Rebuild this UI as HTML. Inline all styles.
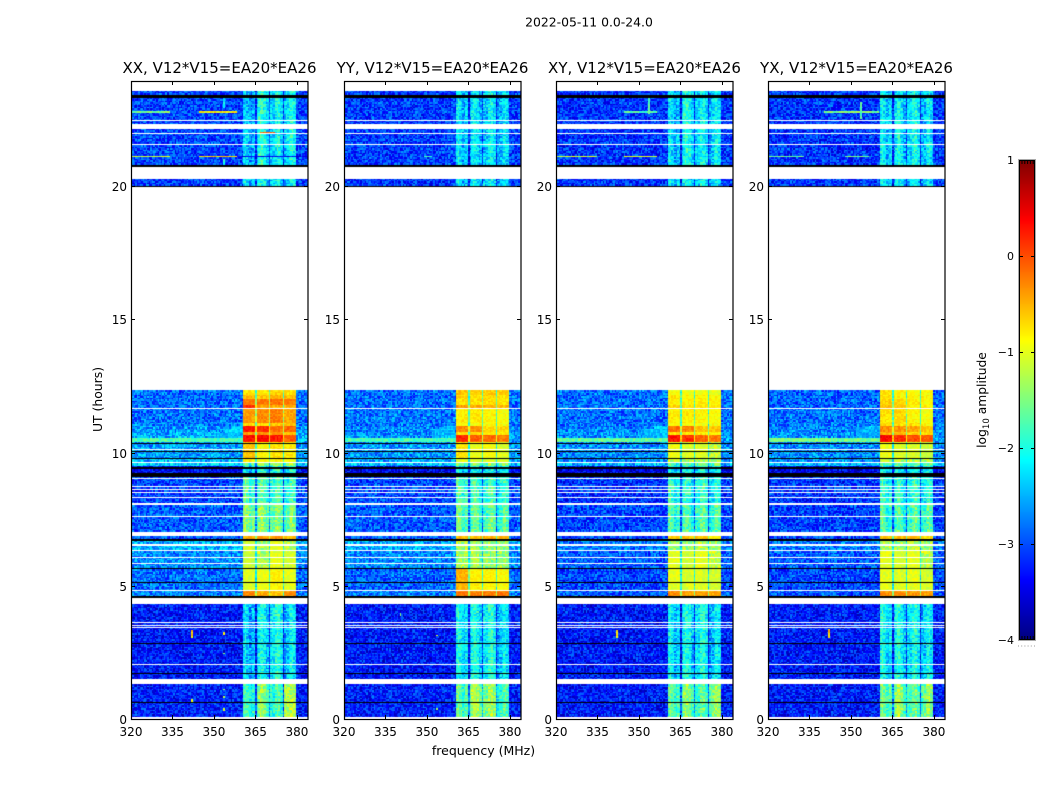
<!DOCTYPE html>
<html>
<head>
<meta charset="utf-8">
<title>2022-05-11 0.0-24.0</title>
<style>
html,body{margin:0;padding:0;background:#fff;}
#figure{position:relative;width:1050px;height:800px;overflow:hidden;background:#fff;font-family:"DejaVu Sans","Liberation Sans",sans-serif;}
canvas{position:absolute;display:block;}
svg{position:absolute;left:0;top:0;}
text{fill:#000;font-family:"DejaVu Sans","Liberation Sans",sans-serif;}
</style>
</head>
<body>
<div id="figure">
<svg id="overlay" width="1050" height="800" viewBox="0 0 1050 800">
  <text x="589" y="26.5" text-anchor="middle" font-size="12.4">2022-05-11 0.0-24.0</text>
  <text x="483.5" y="755" text-anchor="middle" font-size="12.5">frequency (MHz)</text>
  <text transform="translate(102,399.5) rotate(-90)" text-anchor="middle" font-size="12.4">UT (hours)</text>
  <text transform="translate(986,400) rotate(-90)" text-anchor="middle" font-size="12.3">log<tspan font-size="8.6" dy="3">10</tspan><tspan dy="-3"> amplitude</tspan></text>
</svg>
</div>
<script>
/* ---- axis values ---- */
const panelTitles = ["XX, V12*V15=EA20*EA26","YY, V12*V15=EA20*EA26","XY, V12*V15=EA20*EA26","YX, V12*V15=EA20*EA26"];
const freqTicks = [320,335,350,365,380];
const hourTicks = [0,5,10,15,20];
const colorTicks = [1,0,-1,-2,-3,-4];
const freqMin = 320, freqMax = 384, hourMin = 0, hourMax = 23.94;
const levelMin = -4, levelMax = 1;

/* ---- observing structure, in hours ---- */
const sectionTop = [23.94,20.5,12.35,12.16,11.97,11.78,11.63,11.07,10.96,10.73,10.62,10.36,9.74,9.62,9.46,9.08,8.09,6.95,6.68,6.29,5.67,4.84,4.45,1.4];
const subBandStart = [360.6,365.8,370.7,375.8];
const subBandEnd = [365.1,370.0,375.1,380.0];
const whiteGaps = [[23.94,23.56],[22.48,22.44],[22.33,22.14],[22.0,21.96],[21.58,21.54],[20.7,20.25],[19.95,12.35],[11.67,11.63],[10.13,10.09],[9.65,9.62],[9.05,9.02],[8.74,8.71],[8.63,8.59],[8.52,8.48],[8.33,8.29],[8.09,8.03],[7.62,7.58],[7.02,6.87],[6.55,6.51],[6.33,6.29],[6.09,6.05],[5.85,5.82],[4.84,4.80],[4.55,4.32],[3.64,3.60],[3.53,3.49],[3.46,3.43],[2.06,2.03],[1.51,1.31],[0.08,0]];
const blackRows = [[23.41,23.29],[20.79,20.70],[20.0,19.95],[10.36,10.31],[10.06,10.01],[9.79,9.74],[9.46,9.38],[9.23,9.08],[6.75,6.68],[5.67,5.62],[5.13,5.09],[4.62,4.55],[2.87,2.81],[1.71,1.68],[0.64,0.60]];

/* ---- background level per section, one array per polarisation ---- */
const xxBackground = [-3.05,-3.1,-2.85,-2.85,-2.85,-2.85,-2.85,-2.75,-2.65,-2.55,-2.5,-2.6,-2.5,-2.35,-3.4,-3.05,-2.95,-3.0,-2.5,-2.7,-2.85,-2.75,-3.3,-3.25];
const yyBackground = [-3.1,-3.15,-2.85,-2.85,-2.85,-2.85,-2.8,-2.8,-2.75,-2.7,-2.65,-2.65,-2.55,-2.45,-3.45,-3.05,-2.95,-3.0,-2.55,-2.7,-2.9,-2.75,-3.3,-3.25];
const xyBackground = [-3.15,-3.15,-2.85,-2.85,-2.85,-2.85,-2.85,-2.8,-2.75,-2.7,-2.65,-2.7,-2.7,-2.5,-3.5,-3.15,-3.05,-3.1,-2.8,-2.95,-3.05,-2.95,-3.3,-3.3];
const yxBackground = [-3.15,-3.15,-2.9,-2.9,-2.9,-2.9,-2.85,-2.8,-2.75,-2.7,-2.65,-2.7,-2.7,-2.5,-3.5,-3.15,-3.1,-3.1,-2.8,-2.95,-3.05,-2.95,-3.3,-3.3];

/* ---- level in the four sub-bands per section ---- */
const xxBands = [[-2.5,-2.15,-2.35,-2.25],[-2.35,-2.3,-2.35,-2.4],[-0.75,-0.8,-0.7,-0.75],[-0.55,-0.6,-0.5,-0.55],[-0.25,-0.25,-0.2,-0.25],[0.15,-0.4,-0.5,-0.5],[-0.4,-0.3,-0.25,-0.45],[-0.7,-0.7,-0.6,-0.6],[0.25,0.15,-0.2,-0.15],[-0.4,-0.35,-0.4,-0.55],[0.3,0.4,0.25,-0.1],[-0.6,-0.85,-0.75,-0.8],[-0.8,-0.9,-0.85,-0.9],[-1.8,-1.5,-1.6,-1.6],[-2.3,-2.2,-2.2,-2.2],[-1.8,-1.9,-1.95,-2.05],[-1.55,-1.6,-1.7,-1.7],[-0.45,-0.4,-0.4,-0.6],[-1.1,-1.3,-1.0,-1.2],[-1.15,-1.25,-1.0,-1.1],[-1.05,-0.95,-0.85,-1.0],[-0.3,-0.45,-0.6,-0.35],[-2.45,-2.3,-2.2,-2.4],[-1.95,-1.6,-2.0,-1.25]];
const yyBands = [[-2.35,-2.4,-2.4,-2.5],[-2.4,-2.4,-2.4,-2.5],[-0.6,-0.65,-0.65,-0.65],[-0.7,-0.75,-0.7,-0.75],[-0.75,-0.75,-0.7,-0.75],[-0.35,-0.45,-0.5,-0.55],[-0.8,-0.8,-0.85,-0.9],[-0.9,-0.9,-0.9,-0.9],[-0.3,-0.35,-0.7,-0.7],[-0.75,-0.75,-0.8,-0.8],[0.2,-0.1,-0.15,-0.25],[-0.75,-0.95,-0.9,-1.05],[-1.0,-1.1,-1.1,-1.1],[-1.7,-1.7,-1.7,-1.7],[-2.3,-2.3,-2.3,-2.3],[-1.85,-2.0,-2.0,-2.1],[-1.7,-1.85,-1.85,-1.95],[-0.55,-0.55,-0.5,-0.55],[-1.3,-1.5,-1.4,-1.4],[-1.3,-1.5,-1.4,-1.4],[-0.5,-0.85,-0.85,-0.9],[-0.2,-0.25,-0.25,-0.2],[-2.2,-2.25,-2.2,-2.45],[-1.75,-1.5,-1.55,-1.95]];
const xyBands = [[-2.4,-2.2,-2.35,-2.4],[-2.3,-2.35,-2.35,-2.45],[-0.9,-0.95,-0.95,-1.0],[-0.75,-0.85,-0.8,-0.85],[-0.8,-0.85,-0.8,-0.85],[-0.65,-0.75,-0.75,-0.8],[-0.8,-0.8,-0.85,-0.9],[-0.9,-0.9,-0.9,-0.9],[-0.2,-0.25,-0.6,-0.6],[-0.75,-0.75,-0.8,-0.85],[0.3,0.15,-0.1,-0.2],[-0.95,-1.05,-1.05,-1.2],[-1.2,-1.3,-1.3,-1.3],[-1.85,-1.8,-1.8,-1.8],[-2.3,-2.3,-2.3,-2.35],[-2.0,-2.15,-2.1,-2.2],[-1.85,-1.95,-1.9,-1.95],[-0.65,-0.6,-0.6,-0.8],[-1.4,-1.4,-1.25,-1.4],[-1.0,-1.1,-1.0,-1.2],[-1.0,-1.05,-1.05,-1.1],[-0.35,-0.4,-0.45,-0.45],[-2.3,-2.25,-2.25,-2.45],[-1.75,-1.65,-1.9,-1.6]];
const yxBands = [[-2.3,-2.35,-2.3,-2.45],[-2.35,-2.4,-2.4,-2.5],[-0.75,-0.85,-0.9,-0.9],[-0.75,-0.85,-0.85,-0.85],[-0.65,-0.7,-0.8,-0.85],[-0.55,-0.6,-0.8,-0.8],[-0.75,-0.7,-0.85,-0.9],[-0.7,-0.75,-0.75,-0.85],[-0.3,-0.35,-0.45,-0.6],[-0.5,-0.55,-0.7,-0.75],[0.35,0.15,0.0,-0.1],[-0.95,-1.05,-1.05,-1.15],[-1.2,-1.3,-1.3,-1.3],[-1.85,-1.8,-1.8,-1.8],[-2.3,-2.3,-2.3,-2.35],[-2.0,-2.15,-2.1,-2.2],[-1.85,-1.95,-1.9,-1.95],[-0.6,-0.55,-0.55,-0.75],[-1.3,-1.4,-1.2,-1.4],[-1.0,-1.1,-1.0,-1.2],[-1.0,-1.05,-1.0,-1.1],[-0.35,-0.35,-0.4,-0.4],[-2.2,-2.25,-2.25,-2.4],[-1.7,-1.6,-1.85,-1.6]];

/* ---- visible spectral ripple, per 1 MHz from 360 to 380 ---- */
const spectralRipple = [0.1,0.2,0.05,-0.1,0,-0.1,0.1,0.2,0.1,-0.1,0,0,0.15,0.2,0.05,-0.1,0,0.1,0.2,0.1,-0.1];

/* ---- interference features: f0, f1, hour0, hour1, level ---- */
const xxFeatures = [[320,360.6,10.55,10.36,-1.75],[357,360.6,11.0,10.85,-2.4],[354,360.6,10.85,10.7,-2.3],[350,360.6,10.7,10.55,-2.45],[320,334.5,22.80,22.74,-1.5],[345,358.7,22.80,22.74,-0.9],[320,334.5,21.12,21.05,-1.1],[345,358.7,21.12,21.05,-0.6],[359,384,21.12,21.05,-3.4],[353.7,354.3,23.4,22.9,-2.2],[353.7,354.3,21.0,20.8,-2.0],[342.1,342.7,3.3,3.0,-0.7],[353.7,354.3,3.24,3.16,-1.0],[353.7,354.3,2.48,2.4,-1.2],[353.7,354.3,1.13,1.05,-1.2],[353.7,354.3,0.84,0.76,-1.2],[353.7,354.3,0.38,0.3,-1.2],[342.1,342.7,0.75,0.6,-1.0],[367,372,22.03,21.97,-0.2]];
const yyFeatures = [[320,360.6,10.55,10.36,-1.8],[357,360.2,11.0,10.85,-2.45],[352,360.2,10.85,10.55,-2.45],[349,352,21.12,21.05,-1.7],[353.7,354.3,3.14,3.06,-1.2],[353.7,354.3,0.4,0.32,-1.2],[340.5,341,4.0,3.85,-1.6]];
const xyFeatures = [[320,360.6,10.55,10.36,-1.65],[356,360.6,11.0,10.85,-2.35],[352,360.6,10.85,10.55,-2.45],[320,335,21.12,21.05,-1.1],[345,357,21.12,21.05,-1.0],[345,357,22.80,22.74,-1.7],[353.7,354.3,23.4,22.7,-1.7],[342,342.6,3.3,3.0,-0.7]];
const yxFeatures = [[320,360.6,10.55,10.36,-1.55],[356,360.6,11.0,10.85,-2.4],[352,360.6,10.85,10.55,-2.5],[320,333,21.12,21.05,-1.6],[348,357,21.12,21.05,-1.5],[340.6,360,22.80,22.74,-1.5],[342,342.6,3.35,3.0,-0.7],[353.7,354.3,23.1,22.5,-1.7]];

/* ---- hand-entered speckle offsets (log amplitude) used as grain texture ---- */
const speckle = [0.21,-0.34,0.08,0.42,-0.12,-0.27,0.33,-0.05,0.17,-0.41,0.26,0.02,-0.19,0.38,-0.30,0.11,-0.08,0.29,-0.36,0.05,0.44,-0.22,-0.03,0.18,-0.44,0.31,0.09,-0.15,0.24,-0.28,0.36,-0.10,0.01,-0.33,0.14,0.40,-0.25,0.07,-0.17,0.28,-0.39,0.19,0.03,-0.06,0.35,-0.23,0.12,-0.31,0.47,-0.14,-0.01,0.23,-0.37,0.16,0.06,-0.20,0.32,-0.43,0.10,0.27,-0.09,-0.29,0.39,0.00,-0.16,0.20,-0.35,0.13,0.30,-0.24,-0.04,0.41,-0.18,0.15,-0.32,0.25,0.04,-0.42,0.34,-0.11,0.22,-0.26,-0.02,0.37,-0.38,0.09,0.17,-0.21,0.43,-0.07,-0.30,0.28,0.06,-0.13,0.19,-0.40,0.12];

const backgrounds = [xxBackground,yyBackground,xyBackground,yxBackground];
const bandTables = [xxBands,yyBands,xyBands,yxBands];
const featureTables = [xxFeatures,yyFeatures,xyFeatures,yxFeatures];

const panelLeft = [131,344,556,768];
const panelWidth = 177, plotTop = 81, plotBottom = 719;
const channelWidth = 0.55, integration = 0.056;
const NS = "http://www.w3.org/2000/svg";
const figure = document.getElementById("figure");
const overlay = document.getElementById("overlay");

function jet(level){
  const t = Math.min(1,Math.max(0,(level-levelMin)/(levelMax-levelMin)));
  const ramp = (a)=>Math.round(255*Math.min(1,Math.max(0,1.5-Math.abs(4*t-a))));
  return "rgb("+ramp(3)+","+ramp(2)+","+ramp(1)+")";
}
function xScale(p,f){ return panelLeft[p]+(f-freqMin)/(freqMax-freqMin)*panelWidth; }
function yScale(h){ return plotBottom-(h-hourMin)/(hourMax-hourMin)*(plotBottom-plotTop); }
function sectionOf(h){
  let s = 0;
  for(let i=0;i<sectionTop.length;i++){ if(h<=sectionTop[i]) s=i; }
  return s;
}
function grainAt(c,r,p){
  return speckle[(c*c*13+r*r*29+c*r*7+c*41+r*19+p*53)%speckle.length];
}
function grainScale(level){
  return level>-1.2 ? 0.35 : (level>-2.4 ? 0.9 : 1.1);
}
function cellLevel(p,f,h,c,r){
  const s = sectionOf(h);
  const bg = backgrounds[p][s];
  let level = bg, band = false;
  for(let b=0;b<subBandStart.length;b++){
    const lvl = bandTables[p][s][b];
    if(f>=subBandStart[b] && f<subBandEnd[b]){ level = lvl; band = true; }
    else if(f>=subBandEnd[b] && f<(subBandStart[b+1]||subBandEnd[b])){ level = Math.max(bg,lvl-0.95); band = true; }
  }
  if(band && level<-1.4){
    level += spectralRipple[Math.min(20,Math.max(0,Math.floor(f-360)))]*1.6;
  }
  return level+grainAt(c,r,p)*grainScale(level);
}
function fillHourBand(ctx,p,top,bottom,f0,f1,color){
  const y0 = Math.round(yScale(top))-plotTop, y1 = Math.round(yScale(bottom))-plotTop;
  const x0 = Math.round(xScale(p,f0))-panelLeft[p], x1 = Math.round(xScale(p,f1))-panelLeft[p];
  ctx.fillStyle = color;
  ctx.fillRect(x0,y0,Math.max(1,x1-x0),Math.max(1,y1-y0));
}

function drawPanel(p){
  const cv = document.createElement("canvas");
  
  
  cv.width = panelWidth;
  cv.height = plotBottom-plotTop;
  cv.style.left = panelLeft[p]+"px";
  cv.style.top = plotTop+"px";
  figure.insertBefore(cv,overlay);
  const ctx = cv.getContext("2d");
  ctx.fillStyle = "#fff";
  ctx.fillRect(0,0,cv.width,cv.height);
  const cols = Math.ceil((freqMax-freqMin)/channelWidth);
  const rows = Math.ceil((hourMax-hourMin)/integration);
  const features = featureTables[p];
  for(let c=0;c<cols;c++){
    const f = freqMin+c*channelWidth;
    const fMid = f+channelWidth/2;
    const x0 = Math.floor(xScale(p,f))-panelLeft[p];
    const x1 = Math.floor(xScale(p,f+channelWidth))-panelLeft[p];
    for(let r=0;r<rows;r++){
      const h = hourMin+r*integration;
      const hMid = h+integration/2;
      const y0 = Math.floor(yScale(h+integration))-plotTop;
      const y1 = Math.floor(yScale(h))-plotTop;
      let level = cellLevel(p,fMid,hMid,c,r);
      for(let k=0;k<features.length;k++){
        const ft = features[k];
        if(fMid>=ft[0] && fMid<ft[1] && hMid<=ft[2] && hMid>ft[3]){
          level = ft[4]+grainAt(c,r,p)*0.6;
        }
      }
      ctx.fillStyle = jet(level);
      ctx.fillRect(x0,y0,x1-x0,y1-y0);
    }
  }
  whiteGaps.forEach(function(g){ fillHourBand(ctx,p,g[0],g[1],freqMin,freqMax,"#fff"); });
  blackRows.forEach(function(g){ fillHourBand(ctx,p,g[0],g[1],freqMin,freqMax,"#000"); });
}

function addLine(x1,y1,x2,y2,name,stroke,width){
  const ln = document.createElementNS(NS,"line");
  
  
  ln.setAttribute("x1",x1);
  ln.setAttribute("y1",y1);
  ln.setAttribute("x2",x2);
  ln.setAttribute("y2",y2);
  ln.setAttribute("stroke",stroke||"#000");
  ln.setAttribute("stroke-width",width||1);
  overlay.appendChild(ln);
}
function addLabel(x,y,str,anchor,size,name){
  const t = document.createElementNS(NS,"text");
  
  
  t.setAttribute("x",x);
  t.setAttribute("y",y);
  t.setAttribute("text-anchor",anchor);
  t.setAttribute("font-size",size);
  t.textContent = str;
  overlay.appendChild(t);
}

function drawAxes(p){
  const left = panelLeft[p], right = left+panelWidth;
  const frame = document.createElementNS(NS,"rect");
  
  
  frame.setAttribute("x",left+0.5);
  frame.setAttribute("y",plotTop+0.5);
  frame.setAttribute("width",panelWidth-0.5);
  frame.setAttribute("height",plotBottom-plotTop);
  frame.setAttribute("fill","none");
  frame.setAttribute("stroke","#000");
  frame.setAttribute("stroke-width","1.2");
  overlay.appendChild(frame);
  addLabel((left+right)/2,73,panelTitles[p],"middle",15,"panel-title");
  freqTicks.forEach(function(tick){
    const x = Math.round(xScale(p,tick))+0.5;
    addLine(x,plotBottom,x,plotBottom-4,"x-tick-bottom");
    addLine(x,plotTop,x,plotTop+4,"x-tick-top");
    addLabel(xScale(p,tick),736,String(tick),"middle",12,"x-tick-label");
  });
  hourTicks.forEach(function(tick){
    const y = Math.round(yScale(tick))+0.5;
    addLine(left,y,left+4,y,"y-tick-left");
    addLine(right-4,y,right,y,"y-tick-right");
    addLabel(left-4,y+4.5,String(tick),"end",12,"y-tick-label");
  });
}

function drawColorbar(){
  const barLeft = 1019, barRight = 1035, barTop = 160, barBottom = 640;
  const cScale = (v)=>barBottom-(v-levelMin)/(levelMax-levelMin)*(barBottom-barTop);
  const cv = document.createElement("canvas");
  
  
  cv.width = barRight-barLeft;
  cv.height = barBottom-barTop;
  cv.style.left = barLeft+"px";
  cv.style.top = barTop+"px";
  figure.insertBefore(cv,overlay);
  const ctx = cv.getContext("2d");
  for(let y=0;y<cv.height;y++){
    ctx.fillStyle = jet(levelMax-(y+0.5)/cv.height*(levelMax-levelMin));
    ctx.fillRect(0,y,cv.width,1);
  }
  const outer = document.createElementNS(NS,"rect");
  
  
  outer.setAttribute("x",barLeft-0.5);
  outer.setAttribute("y",barTop-0.5);
  outer.setAttribute("width",barRight-barLeft+1);
  outer.setAttribute("height",barBottom-barTop+1);
  outer.setAttribute("fill","none");
  outer.setAttribute("stroke","#aaa");
  overlay.appendChild(outer);
  const inner = document.createElementNS(NS,"rect");
  
  
  inner.setAttribute("x",barLeft+0.5);
  inner.setAttribute("y",barTop+0.5);
  inner.setAttribute("width",barRight-barLeft-1);
  inner.setAttribute("height",barBottom-barTop-1);
  inner.setAttribute("fill","none");
  inner.setAttribute("stroke","#000");
  overlay.appendChild(inner);
  colorTicks.forEach(function(tick){
    const y = Math.round(cScale(tick))+0.5;
    if(tick<levelMax && tick>levelMin){
      addLine(barLeft,y,barLeft+4,y,"colorbar-tick-left");
      addLine(barRight-4,y,barRight,y,"colorbar-tick-right");
    }
    const str = tick<0 ? "\u2212"+Math.abs(tick) : String(tick);
    addLabel(1014,cScale(tick)+4,str,"end",11,"colorbar-tick-label");
  });
  for(let i=1;i<=5;i++){
    const x = barLeft+i*2.8+0.2;
    addLine(x,barTop,x,barTop+4,"colorbar-minor-tick-top");
    addLine(x,barBottom,x,barBottom-4,"colorbar-minor-tick-bottom");
  }
  for(let i=0;i<6;i++){
    const x = 1018+i*3.2;
    addLine(x,646,x+1,646,"colorbar-foot-dot","#999",1);
  }
}

for(let p=0;p<panelLeft.length;p++){
  drawPanel(p);
  drawAxes(p);
}
drawColorbar();
</script>
</body>
</html>
